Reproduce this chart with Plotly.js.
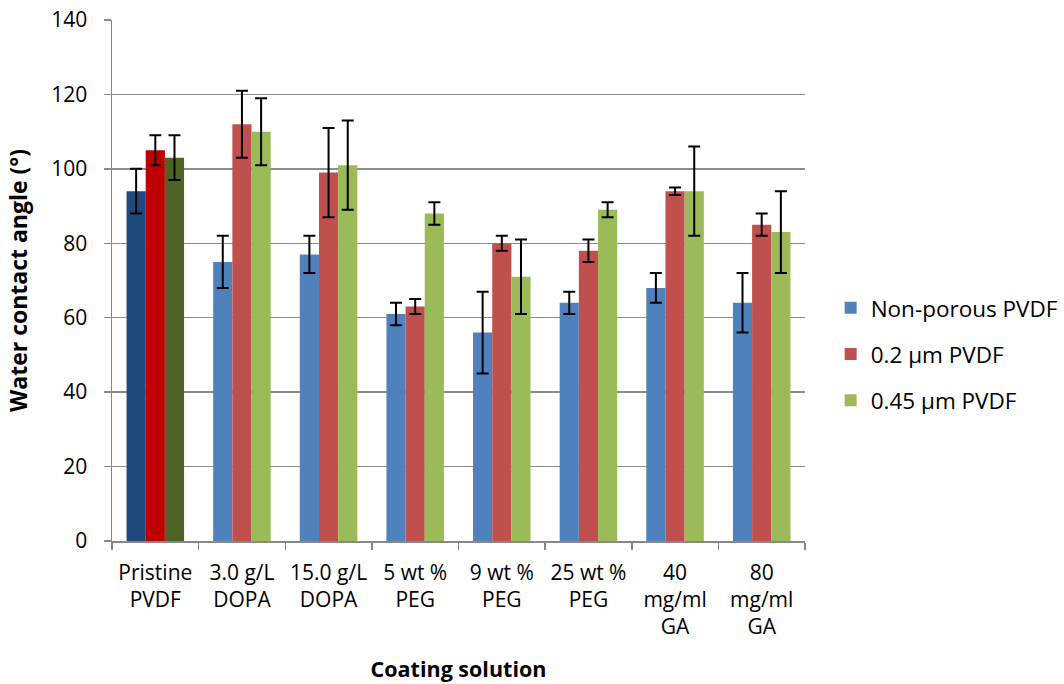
<!DOCTYPE html>
<html>
<head>
<meta charset="utf-8">
<script src="https://cdn.plot.ly/plotly-3.0.1.min.js"></script>
<style>html,body{margin:0;padding:0;background:#fff;}#chart{width:1064px;height:684px;}</style>
</head>
<body>
<div id="chart"></div>
<script>
var categories = ["Pristine<br>PVDF", "3.0 g/L<br>DOPA", "15.0 g/L<br>DOPA", "5 wt %<br>PEG", "9 wt %<br>PEG", "25 wt %<br>PEG", "40<br>mg/ml<br>GA", "80<br>mg/ml<br>GA"];
var seriesNames = ["Non-porous PVDF", "0.2 \u00b5m PVDF", "0.45 \u00b5m PVDF"];
var nonPorous = [94, 75, 77, 61, 56, 64, 68, 64];
var nonPorousErr = [6, 7, 5, 3, 11, 3, 4, 8];
var pt2 = [105, 112, 99, 63, 80, 78, 94, 85];
var pt2Err = [4, 9, 12, 2, 2, 3, 1, 3];
var pt45 = [103, 110, 101, 88, 71, 89, 94, 83];
var pt45Err = [6, 9, 12, 3, 10, 2, 12, 11];
var seriesColors = ["#4F81BD", "#C0504D", "#9BBB59"];
var pristineColors = ["#1F497D", "#C00000", "#4F6228"];

var values = [nonPorous, pt2, pt45];
var errs = [nonPorousErr, pt2Err, pt45Err];
var font = "Open Sans, sans-serif";

var traces = [];
for (var s = 0; s < 3; s++) {
  var cols = categories.map(function (c, i) { return i === 0 ? pristineColors[s] : seriesColors[s]; });
  traces.push({
    type: "bar", x: categories, y: values[s], name: seriesNames[s], showlegend: false,
    marker: {color: cols, line: {width: 0}},
    error_y: {type: "data", array: errs[s], visible: true, color: "#000", thickness: 2, width: 6},
    hoverinfo: "x+y"
  });
}
for (var s = 0; s < 3; s++) {
  traces.push({
    type: "bar", x: [0], y: [0], name: seriesNames[s], xaxis: "x2", yaxis: "y2",
    legendgroup: "g" + s, showlegend: true, marker: {color: seriesColors[s]}, hoverinfo: "skip"
  });
}

var layout = {
  width: 1064, height: 684,
  margin: {l: 112, r: 259, t: 19.5, b: 143, autoexpand: false},
  paper_bgcolor: "#fff", plot_bgcolor: "#fff",
  font: {family: font, size: 21, color: "#000"},
  barmode: "group", bargap: 0.336, bargroupgap: 0,
  xaxis: {
    type: "category", tickson: "boundaries", ticks: "outside", ticklen: 7, tickcolor: "#888", tickwidth: 1.5,
    showline: true, linecolor: "#888", linewidth: 1.5, showgrid: false, tickangle: 0,
    tickfont: {family: font, size: 21, color: "#000"}, ticklabelstandoff: 12,
    title: {text: "<b>Coating solution</b>", font: {family: font, size: 21.5}, standoff: 22}
  },
  yaxis: {
    range: [0, 140], dtick: 20, ticks: "outside", ticklen: 7, tickcolor: "#888", tickwidth: 1.5,
    showline: true, linecolor: "#888", linewidth: 1.5, showgrid: true, gridcolor: "#8c8c8c", gridwidth: 1.5,
    zeroline: false, tickfont: {family: font, size: 21, color: "#000"}, ticklabelstandoff: 12,
    title: {text: "<b>Water contact angle (\u00b0)</b>", font: {family: font, size: 23}, standoff: 17}
  },
  xaxis2: {visible: false, overlaying: "x", range: [10, 11]},
  yaxis2: {visible: false, overlaying: "y", range: [10, 11]},
  legend: {
    x: 1.037, xanchor: "left", y: 0.3586, yanchor: "middle",
    font: {family: font, size: 22.5, color: "#000"}, traceorder: "grouped", tracegroupgap: 14,
    itemwidth: 30, bgcolor: "rgba(0,0,0,0)"
  }
};

Plotly.newPlot("chart", traces, layout, {displayModeBar: false, staticPlot: true});
</script>
</body>
</html>
